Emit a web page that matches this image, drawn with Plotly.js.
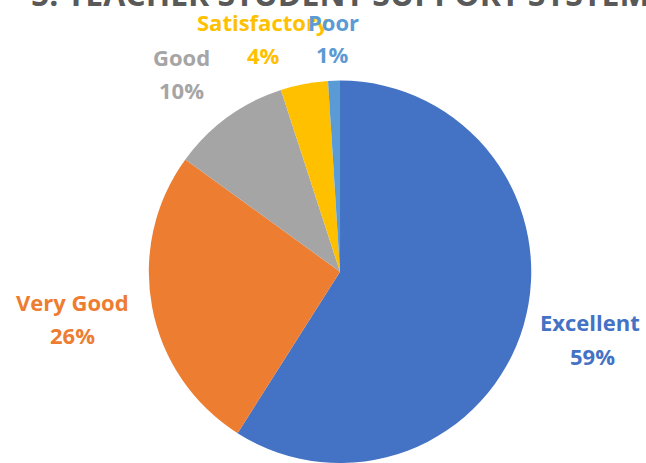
<!DOCTYPE html>
<html>
<head>
<meta charset="utf-8">
<script src="https://cdn.plot.ly/plotly-3.0.1.min.js"></script>
<style>html,body{margin:0;padding:0;background:#fff}#chart{width:646px;height:463px}</style>
</head>
<body>
<div id="chart"></div>
<script>
var categories = ["Excellent", "Very Good", "Good", "Satisfactory", "Poor"];
var values = [59, 26, 10, 4, 1];
var colors = ["#4472C4", "#ED7D31", "#A5A5A5", "#FFC000", "#5B9BD5"];
var chartTitle = "5. TEACHER STUDENT SUPPORT SYSTEM";

// label placement (pixel centres of the name line and the percent line)
var labelNamePos = [[590, 322], [72, 302], [182, 57], [263, 22], [333, 22]];
var labelPctPos = [[592, 356], [72, 335], [181, 90], [263, 55], [332, 54]];

var W = 646, H = 463;
var FONT = "Open Sans, sans-serif";

var trace = {
  type: "pie",
  labels: categories,
  values: values,
  sort: false,
  direction: "clockwise",
  rotation: 0,
  marker: {colors: colors, line: {width: 0}},
  textinfo: "none",
  hoverinfo: "none",
  showlegend: false,
  domain: {x: [0.2276, 0.8251], y: [0, 0.826]}
};

var total = values.reduce(function (a, b) { return a + b; }, 0);
var annotations = [{
  text: "<b>" + chartTitle + "</b>",
  xref: "paper", yref: "paper",
  x: 340 / W, y: 1, xanchor: "center", yanchor: "middle",
  yshift: 7,
  showarrow: false,
  font: {family: FONT, size: 32, color: "#595959"}
}];
for (var i = 0; i < categories.length; i++) {
  var pct = Math.round(values[i] / total * 100) + "%";
  annotations.push({
    text: "<b>" + categories[i] + "</b>",
    xref: "paper", yref: "paper",
    x: labelNamePos[i][0] / W, y: 1 - labelNamePos[i][1] / H,
    xanchor: "center", yanchor: "middle", showarrow: false,
    font: {family: FONT, size: 22, color: colors[i]}
  });
  annotations.push({
    text: "<b>" + pct + "</b>",
    xref: "paper", yref: "paper",
    x: labelPctPos[i][0] / W, y: 1 - labelPctPos[i][1] / H,
    xanchor: "center", yanchor: "middle", showarrow: false,
    font: {family: FONT, size: 22, color: colors[i]}
  });
}

var layout = {
  width: W,
  height: H,
  margin: {l: 0, r: 0, t: 0, b: 0},
  paper_bgcolor: "#ffffff",
  showlegend: false,
  annotations: annotations
};

Plotly.newPlot("chart", [trace], layout, {displayModeBar: false, staticPlot: true});
</script>
</body>
</html>
